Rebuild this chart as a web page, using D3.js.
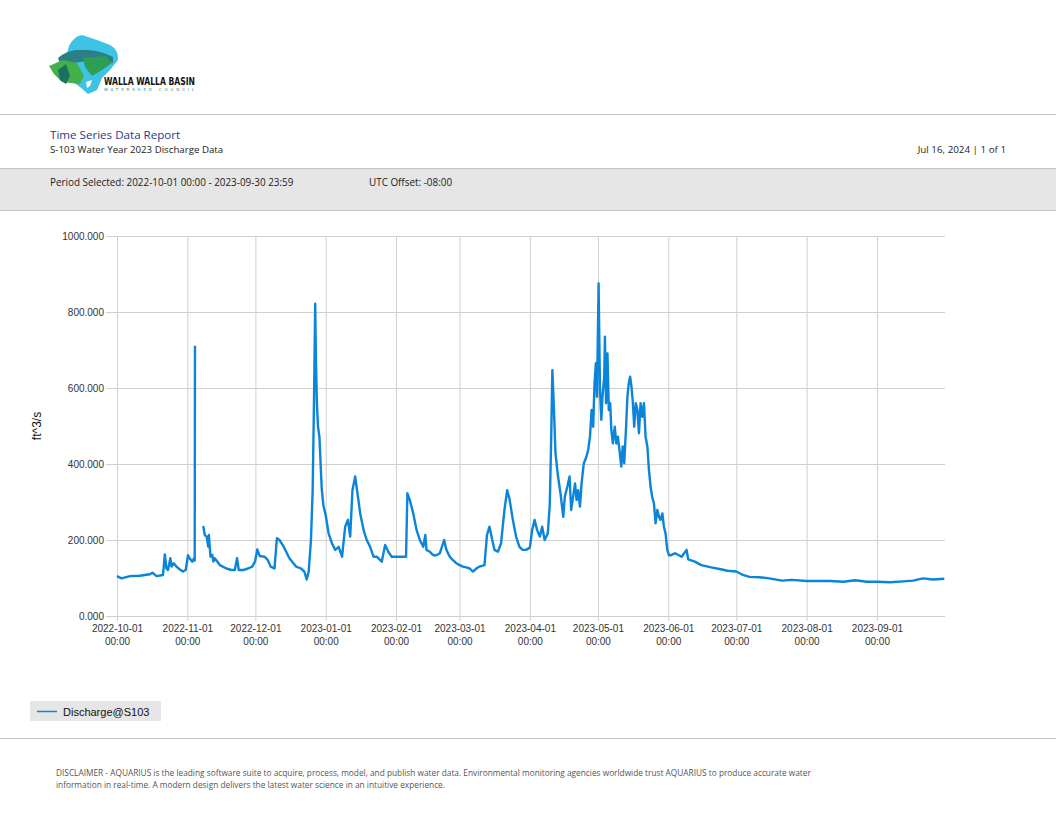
<!DOCTYPE html>
<html lang="en">
<head>
  <meta charset="UTF-8">
  <title>S-103 Water Year 2023 Discharge Data</title>
  <script src="https://d3js.org/d3.v7.min.js"></script>
  <style>
    body { margin: 0; background: #fff; overflow: hidden; }
    svg { display: block; }
    .hdr { font-family: "Open Sans", sans-serif; }
    .tick text { font-family: "Liberation Sans", Arial, sans-serif; font-size: 10px; fill: #333; }
  </style>
</head>
<body>
<svg id="page" width="1056" height="816"></svg>
<script>
// discharge readings (ft^3/s); null = data gap
const times = [
  "2022-10-01 00:00","2022-10-03 00:00","2022-10-06 17:00","2022-10-11 00:00","2022-10-15 12:00",
  "2022-10-16 15:00","2022-10-18 10:00","2022-10-21 07:00","2022-10-22 02:00","2022-10-22 19:00",
  "2022-10-23 12:00","2022-10-24 12:00","2022-10-25 02:00","2022-10-26 00:00","2022-10-27 05:00",
  "2022-10-28 14:00","2022-10-30 02:00","2022-10-31 07:00","2022-11-01 07:00","2022-11-02 00:00",
  "2022-11-03 05:00","2022-11-03 22:00","2022-11-04 06:00","2022-11-04 09:00","2022-11-04 10:00",
  "2022-11-08 00:00","2022-11-08 17:00","2022-11-09 12:00","2022-11-10 05:00","2022-11-10 12:00",
  "2022-11-11 05:00","2022-11-12 00:00","2022-11-12 12:00","2022-11-13 03:00","2022-11-15 08:00",
  "2022-11-18 05:00","2022-11-20 10:00","2022-11-21 22:00","2022-11-22 22:00","2022-11-23 16:00",
  "2022-11-25 14:00","2022-11-27 17:00","2022-11-29 15:00","2022-11-30 20:00","2022-12-01 20:00",
  "2022-12-02 21:00","2022-12-05 02:00","2022-12-06 12:00","2022-12-07 17:00","2022-12-09 10:00",
  "2022-12-10 12:00","2022-12-11 15:00","2022-12-13 10:00","2022-12-16 00:00","2022-12-18 22:00",
  "2022-12-21 03:00","2022-12-22 14:00","2022-12-23 15:00","2022-12-24 12:00","2022-12-25 12:00",
  "2022-12-26 06:00","2022-12-26 20:00","2022-12-27 09:00","2022-12-27 16:00","2022-12-28 03:00",
  "2022-12-28 14:00","2022-12-29 06:00","2022-12-29 18:00","2022-12-30 06:00","2022-12-31 00:00",
  "2023-01-01 00:00","2023-01-02 07:00","2023-01-03 19:00","2023-01-05 05:00","2023-01-06 17:00",
  "2023-01-08 05:00","2023-01-09 14:00","2023-01-10 19:00","2023-01-11 19:00","2023-01-12 19:00",
  "2023-01-14 00:00","2023-01-15 00:00","2023-01-16 05:00","2023-01-17 17:00","2023-01-19 02:00",
  "2023-01-20 14:00","2023-01-22 02:00","2023-01-23 12:00","2023-01-25 17:00","2023-01-27 05:00",
  "2023-01-28 14:00","2023-01-30 02:00","2023-02-02 17:00","2023-02-05 10:00","2023-02-06 00:00",
  "2023-02-07 02:00","2023-02-08 14:00","2023-02-10 02:00","2023-02-11 12:00","2023-02-13 00:00",
  "2023-02-13 22:00","2023-02-14 10:00","2023-02-15 22:00","2023-02-17 10:00","2023-02-18 19:00",
  "2023-02-20 07:00","2023-02-22 05:00","2023-02-23 05:00","2023-02-24 17:00","2023-02-26 02:00",
  "2023-02-27 14:00","2023-03-01 02:00","2023-03-02 12:00","2023-03-04 00:00","2023-03-05 12:00",
  "2023-03-06 22:00","2023-03-08 10:00","2023-03-09 19:00","2023-03-12 00:00","2023-03-13 02:00",
  "2023-03-14 05:00","2023-03-15 10:00","2023-03-16 10:00","2023-03-17 22:00","2023-03-19 07:00",
  "2023-03-20 19:00","2023-03-22 00:00","2023-03-23 00:00","2023-03-24 12:00","2023-03-25 22:00",
  "2023-03-27 10:00","2023-03-28 19:00","2023-03-30 07:00","2023-04-01 00:00","2023-04-02 00:00",
  "2023-04-03 02:00","2023-04-04 05:00","2023-04-05 10:00","2023-04-06 10:00","2023-04-07 12:00",
  "2023-04-08 22:00","2023-04-09 19:00","2023-04-10 10:00","2023-04-10 22:00","2023-04-11 15:00",
  "2023-04-12 07:00","2023-04-13 10:00","2023-04-14 12:00","2023-04-15 17:00","2023-04-16 10:00",
  "2023-04-17 12:00","2023-04-18 12:00","2023-04-19 05:00","2023-04-20 02:00","2023-04-20 22:00",
  "2023-04-21 14:00","2023-04-22 07:00","2023-04-23 02:00","2023-04-23 19:00","2023-04-24 19:00",
  "2023-04-25 22:00","2023-04-26 17:00","2023-04-27 12:00","2023-04-28 05:00","2023-04-28 22:00",
  "2023-04-29 12:00","2023-04-30 02:00","2023-04-30 14:00","2023-05-01 07:00","2023-05-01 22:00",
  "2023-05-02 12:00","2023-05-03 00:00","2023-05-03 19:00","2023-05-04 02:00","2023-05-04 14:00",
  "2023-05-05 05:00","2023-05-05 19:00","2023-05-06 10:00","2023-05-06 22:00","2023-05-07 14:00",
  "2023-05-08 10:00","2023-05-09 02:00","2023-05-09 19:00","2023-05-10 12:00","2023-05-11 07:00",
  "2023-05-11 22:00","2023-05-12 14:00","2023-05-13 10:00","2023-05-14 00:00","2023-05-14 14:00",
  "2023-05-15 05:00","2023-05-15 19:00","2023-05-16 10:00","2023-05-17 00:00","2023-05-17 17:00",
  "2023-05-18 10:00","2023-05-19 02:00","2023-05-19 19:00","2023-05-20 14:00","2023-05-21 07:00",
  "2023-05-22 00:00","2023-05-22 19:00","2023-05-23 12:00","2023-05-24 05:00","2023-05-24 22:00",
  "2023-05-25 17:00","2023-05-26 10:00","2023-05-27 05:00","2023-05-27 22:00","2023-05-28 14:00",
  "2023-05-29 10:00","2023-05-30 02:00","2023-05-30 19:00","2023-05-31 14:00","2023-06-01 07:00",
  "2023-06-02 05:00","2023-06-04 00:00","2023-06-06 22:00","2023-06-09 02:00","2023-06-09 19:00",
  "2023-06-12 17:00","2023-06-15 14:00","2023-06-19 22:00","2023-06-24 05:00","2023-06-27 02:00",
  "2023-07-01 00:00","2023-07-03 22:00","2023-07-06 19:00","2023-07-11 02:00","2023-07-15 10:00",
  "2023-07-21 05:00","2023-07-25 12:00","2023-08-01 00:00","2023-08-05 10:00","2023-08-11 07:00",
  "2023-08-17 05:00","2023-08-22 10:00","2023-08-27 14:00","2023-09-01 00:00","2023-09-06 19:00",
  "2023-09-12 14:00","2023-09-16 22:00","2023-09-21 07:00","2023-09-25 14:00","2023-09-30 17:00"
];
const discharge = [
  105, 99, 105, 106, 110,
  114, 105, 108, 162, 125,
  121, 152, 130, 139, 130,
  123, 117, 121, 160, 152,
  143, 152, 146, 711, null,
  237, 213, 209, 183, 213,
  156, 161, 143, 152, 134,
  125, 121, 121, 152, 121,
  121, 125, 130, 143, 175,
  158, 156, 147, 130, 125,
  205, 200, 183, 152, 130,
  125, 117, 96, 117, 200,
  330, 560, 822, 680, 560,
  500, 470, 400, 335, 290,
  265, 217, 191, 174, 182,
  156, 235, 253, 209, 331,
  367, 323, 270, 226, 200,
  182, 156, 156, 143, 187,
  169, 156, 156, 156, 323,
  305, 270, 226, 200, 182,
  213, 174, 169, 160, 160,
  165, 200, 174, 156, 147,
  139, 134, 130, 128, 125,
  117, 125, 130, 134, 213,
  235, 200, 174, 169, 191,
  279, 331, 309, 253, 209,
  182, 174, 174, 180, 226,
  253, 226, 209, 235, 200,
  218, 296, 472, 647, 542,
  428, 367, 323, 261, 314,
  340, 367, 279, 314, 349,
  305, 331, 288, 349, 402,
  419, 437, 472, 542, 498,
  612, 665, 577, 875, 595,
  516, 577, 630, 735, 560,
  691, 542, 560, 489, 454,
  498, 454, 472, 437, 393,
  446, 402, 498, 577, 612,
  630, 603, 560, 498, 560,
  542, 481, 560, 524, 560,
  472, 446, 384, 340, 314,
  296, 244, 279, 261, 253,
  270, 235, 218, 174, 160,
  160, 165, 156, 174, 149,
  143, 134, 128, 123, 119,
  117, 108, 103, 102, 99,
  93, 95, 92, 92, 92,
  90, 94, 90, 90, 89,
  91, 93, 99, 96, 98
];
const yTicks = [0, 200, 400, 600, 800, 1000];
const periodStart = "2022-10-01 00:00";
const periodEnd = "2023-09-30 23:59";

const parse = d3.timeParse("%Y-%m-%d %H:%M");
const series = times.map((t, i) => ({ t: parse(t), v: discharge[i] }));

const svg = d3.select("#page");

// ---- logo ----
const logo = svg.append("g");
logo.append("path").attr("fill", "#3cc3e6")
  .attr("d", "M69,46 Q74,36 82,35 L97,40 L110,45 Q119,50 118,60 L110,70 L102,78 L97,90 L88,94 L80,87 L70,80 L66,57 Z");
logo.append("path").attr("fill", "#2c7f86")
  .attr("d", "M58,58 Q66,51 76,50 L88,50 Q102,51 113,57 L113,63 Q100,60 86,61 L74,63 L62,69 Z");
logo.append("path").attr("fill", "#43b04a")
  .attr("d", "M49,66 L63,60 L77,63 L84,76 L80,84 L62,82 L54,74 Z");
logo.append("path").attr("fill", "#2e9e55")
  .attr("d", "M83,58 L106,56 L112,63 L102,70 L92,76 L85,67 Z");
logo.append("path").attr("fill", "#1e6f63")
  .attr("d", "M58,70 L66,64 L70,76 L66,84 L60,80 Z");
logo.append("path").attr("fill", "#fff")
  .attr("d", "M86,82 L92,80 L90,86 L87,88 Z");
logo.append("text")
  .attr("x", 104).attr("y", 85)
  .attr("textLength", 91).attr("lengthAdjust", "spacingAndGlyphs")
  .style("font-family", "'DejaVu Sans Condensed', 'DejaVu Sans', sans-serif")
  .style("font-size", "10px").style("font-weight", "bold").style("fill", "#111")
  .text("WALLA WALLA BASIN");
logo.append("text")
  .attr("x", 104).attr("y", 91)
  .attr("textLength", 90).attr("lengthAdjust", "spacing")
  .style("font-family", "'DejaVu Sans', sans-serif")
  .style("font-size", "4px").style("fill", "#2a8aa0")
  .text("WATERSHED COUNCIL");

// ---- header ----
svg.append("line").attr("x1", 0).attr("x2", 1056).attr("y1", 114.5).attr("y2", 114.5)
  .attr("stroke", "#c4c4c4");
svg.append("text").attr("class", "hdr").attr("x", 50).attr("y", 139)
  .style("font-size", "11.6px").style("fill", "#1f3a93")
  .text("Time Series Data Report");
svg.append("text").attr("class", "hdr").attr("x", 50).attr("y", 153)
  .style("font-size", "9.7px").style("fill", "#222")
  .text("S-103 Water Year 2023 Discharge Data");
svg.append("text").attr("class", "hdr").attr("x", 1006).attr("y", 153)
  .attr("text-anchor", "end")
  .style("font-size", "9.8px").style("fill", "#222")
  .text("Jul 16, 2024 | 1 of 1");

svg.append("rect").attr("x", 0).attr("y", 168.5).attr("width", 1056).attr("height", 41.5)
  .attr("fill", "#e6e6e6");
svg.selectAll("line.band").data([168.5, 210.5]).join("line")
  .attr("x1", 0).attr("x2", 1056).attr("y1", d => d).attr("y2", d => d)
  .attr("stroke", "#c4c4c4");
svg.append("text").attr("class", "hdr").attr("x", 50).attr("y", 186)
  .style("font-size", "9.9px").style("fill", "#222")
  .text(`Period Selected: ${periodStart} - ${periodEnd}`);
svg.append("text").attr("class", "hdr").attr("x", 369).attr("y", 186)
  .style("font-size", "9.9px").style("fill", "#222")
  .text("UTC Offset: -08:00");

// ---- chart ----
const plot = { left: 117, right: 945, top: 236, bottom: 616 };
const x = d3.scaleTime()
  .domain([parse(periodStart), parse(periodEnd)])
  .range([plot.left, plot.right]);
const y = d3.scaleLinear().domain([0, 1000]).range([plot.bottom, plot.top]);

const gridColor = "#d0d0d0";

const yAxis = svg.append("g")
  .attr("transform", `translate(${plot.left},0)`)
  .call(d3.axisLeft(y).tickValues(yTicks).tickFormat(d3.format(".3f"))
    .tickSize(11).tickPadding(2));
yAxis.select(".domain").remove();
yAxis.selectAll(".tick line").attr("stroke", gridColor)
  .attr("x1", -11).attr("x2", plot.right - plot.left);

const monthTicks = d3.timeMonth.range(parse(periodStart), parse(periodEnd));
const xAxis = svg.append("g")
  .attr("transform", `translate(0,${plot.bottom})`)
  .call(d3.axisBottom(x).tickValues(monthTicks).tickSize(5).tickFormat(""));
xAxis.select(".domain").remove();
xAxis.selectAll(".tick line").attr("stroke", gridColor)
  .attr("y1", plot.top - plot.bottom);
const fmtDay = d3.timeFormat("%Y-%m-%d"), fmtHour = d3.timeFormat("%H:%M");
xAxis.selectAll(".tick text").each(function(d) {
  const t = d3.select(this).attr("y", 9);
  t.append("tspan").attr("x", 0).attr("dy", "0.71em").text(fmtDay(d));
  t.append("tspan").attr("x", 0).attr("dy", "1.3em").text(fmtHour(d));
});

svg.append("text")
  .attr("transform", `translate(41,${(plot.top + plot.bottom) / 2}) rotate(-90)`)
  .attr("text-anchor", "middle")
  .style("font-family", "'Liberation Sans', Arial, sans-serif")
  .style("font-size", "12px").style("fill", "#111")
  .text("ft^3/s");

const line = d3.line()
  .defined(d => d.v !== null)
  .x(d => x(d.t))
  .y(d => y(d.v));
svg.append("path").datum(series)
  .attr("fill", "none")
  .attr("stroke", "#0a85d9")
  .attr("stroke-width", 2.4)
  .attr("stroke-linejoin", "round")
  .attr("d", line);

// ---- legend ----
const legend = svg.append("g").attr("transform", "translate(30,701)");
legend.append("rect").attr("width", 131).attr("height", 20).attr("fill", "#e6e6e6");
legend.append("line").attr("x1", 7).attr("x2", 27).attr("y1", 10.5).attr("y2", 10.5)
  .attr("stroke", "#0a85d9").attr("stroke-width", 1.5);
legend.append("text").attr("x", 33).attr("y", 14.5)
  .style("font-family", "'Liberation Sans', Arial, sans-serif")
  .style("font-size", "11px").style("fill", "#111")
  .text("Discharge@S103");

// ---- footer ----
svg.append("line").attr("x1", 0).attr("x2", 1056).attr("y1", 738.5).attr("y2", 738.5)
  .attr("stroke", "#c4c4c4");
const disclaimer = [
  "DISCLAIMER - AQUARIUS is the leading software suite to acquire, process, model, and publish water data. Environmental monitoring agencies worldwide trust AQUARIUS to produce accurate water",
  "information in real-time. A modern design delivers the latest water science in an intuitive experience."
];
svg.selectAll("text.disc").data(disclaimer).join("text")
  .attr("class", "hdr disc")
  .attr("x", 56).attr("y", (d, i) => 776 + i * 12)
  .style("font-size", "8.3px").style("fill", "#555")
  .text(d => d);
</script>
</body>
</html>
